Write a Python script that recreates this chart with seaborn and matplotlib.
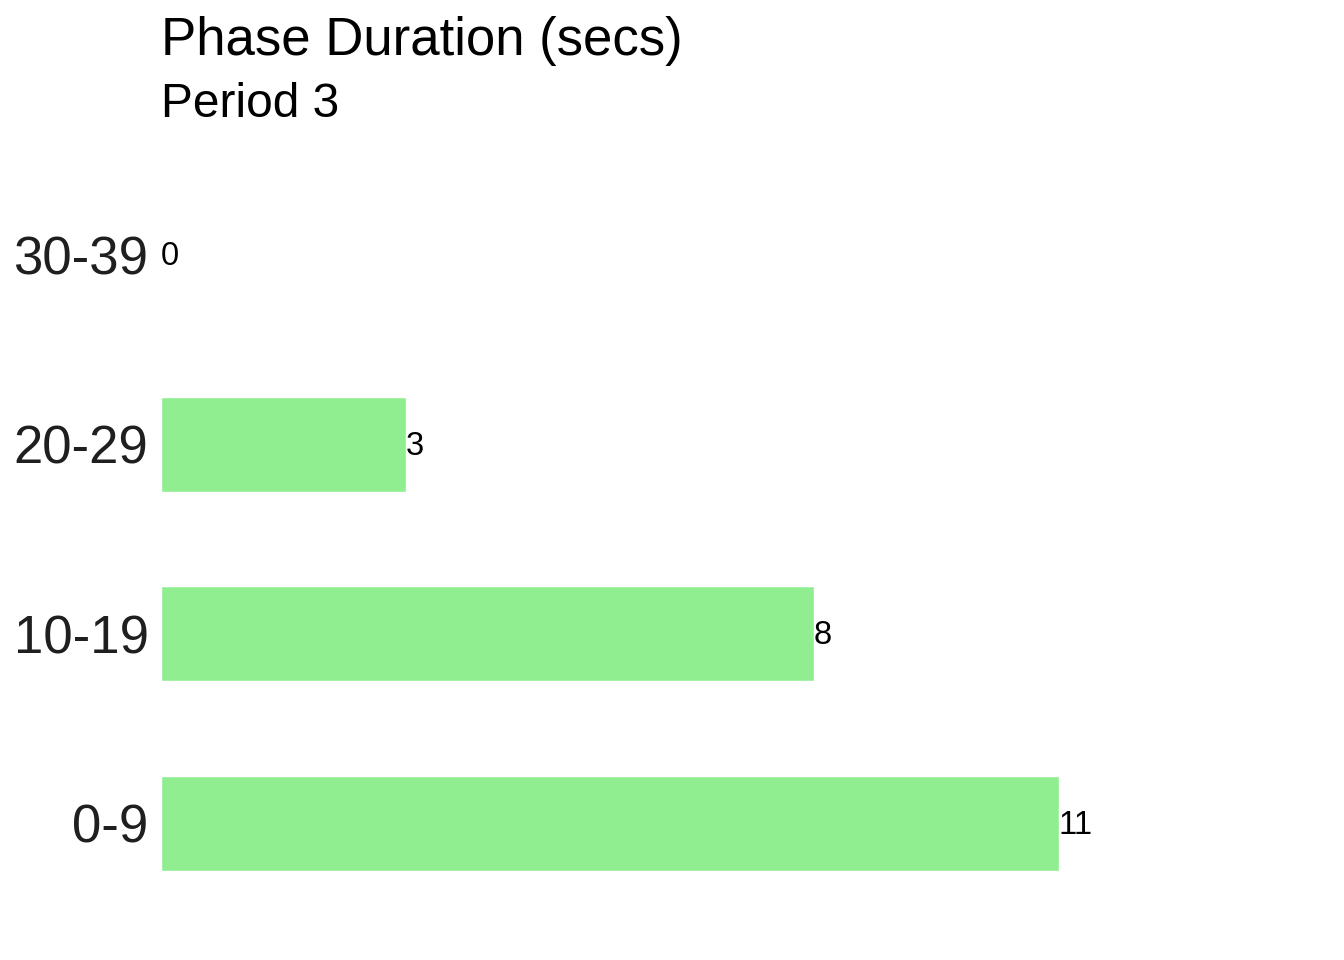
import matplotlib
matplotlib.use("Agg")
import matplotlib.pyplot as plt
import seaborn as sns
import pandas as pd

# data
bins = ["30-39", "20-29", "10-19", "0-9"]
counts = [0, 3, 8, 11]
title = "Phase Duration (secs)"
subtitle = "Period 3"

df = pd.DataFrame({"bin": bins, "count": counts})

sns.set_theme(style="white")
plt.rcParams["font.family"] = ["Liberation Sans", "DejaVu Sans"]

fig = plt.figure(figsize=(13.44, 9.6), dpi=100)
ax = fig.add_axes([161 / 1344, 1 - 937 / 960, 0.85, (937 - 141) / 960])

sns.barplot(data=df, x="count", y="bin", order=bins, orient="h",
            color="#90EE90", saturation=1, width=0.5, ax=ax)

# value labels at the bar ends
for i, v in enumerate(counts):
    ax.text(v, i + 0.01, str(v), ha="left", va="center", fontsize=23.5, color="black")

ax.set_xlim(0, 14)
ax.set_ylim(3.6, -0.6)
ax.set_xlabel("")
ax.set_ylabel("")
ax.set_xticks([])
ax.tick_params(axis="y", length=0, pad=9, labelsize=38, labelcolor="#1F1F1F")
for s in ax.spines.values():
    s.set_visible(False)

fig.text(161 / 1344, 1 - 55 / 960, title, fontsize=38, va="baseline", ha="left", color="black")
fig.text(161 / 1344, 1 - 117 / 960, subtitle, fontsize=34.5, va="baseline", ha="left", color="black")

fig.savefig("out.png", dpi=100, facecolor="white")
